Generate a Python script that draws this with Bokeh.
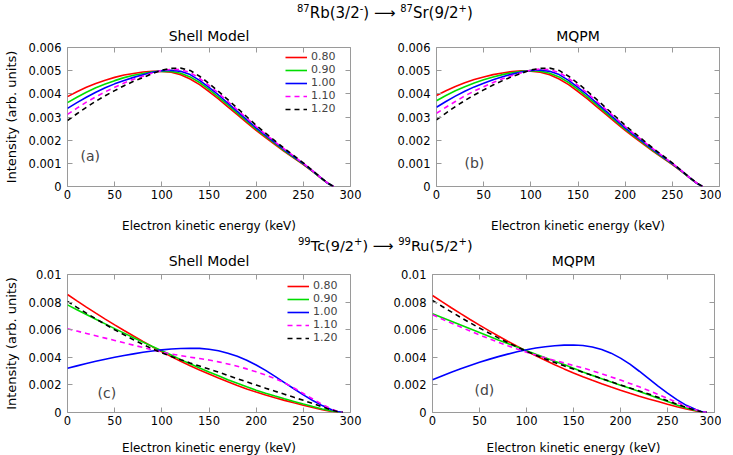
from bokeh.plotting import figure
from bokeh.models import FixedTicker, LinearAxis, Label, Div, Range1d
from bokeh.layouts import column, row
from bokeh.embed import file_html
from bokeh.resources import INLINE

FONT = "DejaVu Sans"
GRAY = "#9a9a9a"

# ---------------- data (intensities in units of 1e-3) ----------------
quenching = ["0.80", "0.90", "1.00", "1.10", "1.20"]

energy_rb = [0, 10, 20, 30, 40, 50, 60, 70, 80, 90, 100, 110, 120, 130, 140,
             150, 160, 170, 180, 190, 200, 210, 220, 230, 240, 250, 260, 270, 276, 282]

# (a) 87Rb Shell Model
rb_sm_080 = [3.88, 4.09, 4.28, 4.45, 4.59, 4.71, 4.81, 4.88, 4.94, 4.97, 4.97, 4.93, 4.82, 4.64, 4.40,
             4.10, 3.78, 3.44, 3.10, 2.76, 2.42, 2.11, 1.81, 1.51, 1.23, 0.95, 0.64, 0.32, 0.14, 0.0]
rb_sm_090 = [3.62, 3.85, 4.07, 4.26, 4.42, 4.57, 4.70, 4.80, 4.88, 4.95, 4.98, 4.97, 4.89, 4.73, 4.49,
             4.19, 3.86, 3.52, 3.17, 2.82, 2.48, 2.16, 1.85, 1.54, 1.25, 0.97, 0.65, 0.32, 0.14, 0.0]
rb_sm_100 = [3.37, 3.62, 3.85, 4.07, 4.26, 4.43, 4.58, 4.71, 4.82, 4.93, 5.00, 5.02, 4.97, 4.83, 4.58,
             4.28, 3.95, 3.60, 3.24, 2.89, 2.53, 2.21, 1.89, 1.58, 1.28, 0.99, 0.66, 0.33, 0.14, 0.0]
rb_sm_110 = [3.11, 3.38, 3.64, 3.87, 4.09, 4.28, 4.47, 4.63, 4.76, 4.90, 5.01, 5.06, 5.04, 4.92, 4.67,
             4.36, 4.03, 3.67, 3.31, 2.95, 2.59, 2.25, 1.93, 1.61, 1.31, 1.00, 0.67, 0.33, 0.15, 0.0]
rb_sm_120 = [2.85, 3.14, 3.42, 3.68, 3.92, 4.14, 4.35, 4.54, 4.70, 4.88, 5.02, 5.10, 5.11, 5.01, 4.76,
             4.45, 4.11, 3.75, 3.38, 3.01, 2.64, 2.30, 1.97, 1.64, 1.33, 1.02, 0.68, 0.34, 0.15, 0.0]

# (b) 87Rb MQPM
rb_mq_080 = [3.93, 4.13, 4.32, 4.48, 4.62, 4.73, 4.83, 4.90, 4.96, 4.99, 4.98, 4.93, 4.82, 4.64, 4.40,
             4.10, 3.78, 3.44, 3.10, 2.76, 2.42, 2.11, 1.81, 1.51, 1.23, 0.95, 0.64, 0.32, 0.14, 0.0]
rb_mq_090 = [3.70, 3.93, 4.13, 4.31, 4.47, 4.61, 4.73, 4.83, 4.91, 4.97, 5.00, 4.98, 4.89, 4.73, 4.49,
             4.19, 3.86, 3.52, 3.17, 2.82, 2.48, 2.16, 1.85, 1.54, 1.25, 0.97, 0.65, 0.32, 0.14, 0.0]
rb_mq_100 = [3.42, 3.67, 3.90, 4.11, 4.30, 4.46, 4.61, 4.74, 4.85, 4.94, 5.01, 5.03, 4.97, 4.83, 4.58,
             4.28, 3.95, 3.60, 3.24, 2.89, 2.53, 2.21, 1.89, 1.58, 1.28, 0.99, 0.66, 0.33, 0.14, 0.0]
rb_mq_110 = [3.16, 3.42, 3.67, 3.91, 4.12, 4.31, 4.49, 4.65, 4.79, 4.91, 5.02, 5.07, 5.04, 4.92, 4.67,
             4.36, 4.03, 3.67, 3.31, 2.95, 2.59, 2.25, 1.93, 1.61, 1.31, 1.00, 0.67, 0.33, 0.15, 0.0]
rb_mq_120 = [2.88, 3.17, 3.45, 3.71, 3.95, 4.17, 4.38, 4.57, 4.74, 4.89, 5.03, 5.10, 5.11, 5.01, 4.76,
             4.45, 4.11, 3.75, 3.38, 3.01, 2.64, 2.30, 1.97, 1.64, 1.33, 1.02, 0.68, 0.34, 0.15, 0.0]

energy_tc = [0, 10, 20, 30, 40, 50, 60, 70, 80, 90, 100, 110, 120, 130, 140, 150,
             160, 170, 180, 190, 200, 210, 220, 230, 240, 250, 260, 270, 280, 286, 292]

# (c) 99Tc Shell Model
tc_sm_080 = [8.55, 8.09, 7.64, 7.20, 6.77, 6.35, 5.94, 5.54, 5.15, 4.77, 4.40, 4.05, 3.71, 3.39, 3.08, 2.79,
             2.50, 2.22, 1.96, 1.71, 1.48, 1.27, 1.07, 0.88, 0.70, 0.53, 0.36, 0.21, 0.08, 0.03, 0.0]
tc_sm_090 = [7.80, 7.45, 7.10, 6.76, 6.42, 6.08, 5.75, 5.42, 5.10, 4.78, 4.47, 4.16, 3.83, 3.53, 3.23, 2.94,
             2.66, 2.38, 2.12, 1.86, 1.62, 1.40, 1.19, 0.99, 0.80, 0.61, 0.43, 0.26, 0.11, 0.04, 0.0]
tc_sm_100 = [3.20, 3.38, 3.55, 3.71, 3.86, 4.00, 4.13, 4.25, 4.36, 4.46, 4.54, 4.60, 4.64, 4.66, 4.65, 4.58,
             4.47, 4.30, 4.07, 3.78, 3.44, 3.05, 2.62, 2.17, 1.72, 1.28, 0.87, 0.50, 0.20, 0.07, 0.0]
tc_sm_110 = [6.07, 5.90, 5.73, 5.56, 5.39, 5.22, 5.05, 4.88, 4.71, 4.54, 4.38, 4.24, 4.12, 4.01, 3.91, 3.80,
             3.67, 3.52, 3.35, 3.16, 2.95, 2.72, 2.46, 2.15, 1.78, 1.38, 0.98, 0.59, 0.25, 0.09, 0.0]
tc_sm_120 = [8.05, 7.62, 7.20, 6.79, 6.39, 6.00, 5.63, 5.27, 4.93, 4.61, 4.32, 4.06, 3.82, 3.59, 3.37, 3.15,
             2.93, 2.68, 2.45, 2.22, 1.99, 1.76, 1.54, 1.32, 1.10, 0.88, 0.65, 0.41, 0.18, 0.07, 0.0]

# (d) 99Tc MQPM
tc_mq_080 = [8.48, 8.03, 7.59, 7.16, 6.74, 6.33, 5.93, 5.54, 5.16, 4.80, 4.45, 4.11, 3.78, 3.46, 3.16, 2.87,
             2.59, 2.33, 2.08, 1.84, 1.61, 1.39, 1.18, 0.98, 0.79, 0.60, 0.42, 0.25, 0.11, 0.04, 0.0]
tc_mq_090 = [7.15, 6.88, 6.61, 6.34, 6.07, 5.80, 5.53, 5.26, 5.00, 4.74, 4.48, 4.22, 3.97, 3.72, 3.47, 3.20,
             2.94, 2.69, 2.45, 2.21, 1.98, 1.76, 1.53, 1.29, 1.04, 0.79, 0.55, 0.33, 0.14, 0.05, 0.0]
tc_mq_100 = [2.38, 2.65, 2.92, 3.17, 3.41, 3.64, 3.85, 4.05, 4.23, 4.40, 4.55, 4.67, 4.77, 4.84, 4.88, 4.89,
             4.85, 4.75, 4.57, 4.30, 3.94, 3.50, 2.99, 2.45, 1.91, 1.40, 0.93, 0.52, 0.21, 0.07, 0.0]
tc_mq_110 = [7.08, 6.78, 6.48, 6.19, 5.90, 5.62, 5.35, 5.09, 4.84, 4.60, 4.37, 4.16, 3.96, 3.77, 3.59, 3.41,
             3.23, 3.02, 2.81, 2.58, 2.35, 2.11, 1.86, 1.59, 1.31, 1.03, 0.74, 0.46, 0.20, 0.07, 0.0]
tc_mq_120 = [8.12, 7.70, 7.29, 6.89, 6.50, 6.12, 5.76, 5.41, 5.07, 4.75, 4.44, 4.15, 3.88, 3.62, 3.38, 3.15,
             2.92, 2.69, 2.46, 2.23, 2.00, 1.78, 1.56, 1.34, 1.10, 0.85, 0.60, 0.37, 0.16, 0.06, 0.0]

x_ticks = [0, 50, 100, 150, 200, 250, 300]
x_tick_labels = ["0", "50", "100", "150", "200", "250", "300"]
y_ticks_rb = [0.0, 0.001, 0.002, 0.003, 0.004, 0.005, 0.006]
y_tick_labels_rb = ["0", "0.001", "0.002", "0.003", "0.004", "0.005", "0.006"]
y_ticks_tc = [0.0, 0.002, 0.004, 0.006, 0.008, 0.01]
y_tick_labels_tc = ["0", "0.002", "0.004", "0.006", "0.008", "0.01"]

COLORS = ["#ff0000", "#00dd00", "#0000ff", "#ff00ff", "#000000"]
DASHES = ["solid", "solid", "solid", "5 4", "5 4"]


def style_axis(ax, ticks, labels, show_labels=True):
    ax.ticker = FixedTicker(ticks=ticks)
    ax.axis_line_color = None
    ax.major_tick_in = 5
    ax.major_tick_out = 0
    ax.major_tick_line_color = GRAY
    ax.minor_tick_line_color = None
    if show_labels:
        ax.major_label_overrides = dict(zip(ticks, labels))
        ax.major_label_text_font = FONT
        ax.major_label_text_font_size = "11.5px"
        ax.major_label_text_color = "black"
        ax.major_label_standoff = 5
    else:
        ax.major_label_overrides = {t: "" for t in ticks}
        ax.major_label_text_font_size = "1px"
        ax.major_label_standoff = 0
    ax.axis_label_text_font = FONT
    ax.axis_label_text_font_style = "normal"
    ax.axis_label_text_color = "black"


def panel(x, series, yticks, ylabels, ymax, title, letter, letter_xy,
          with_ylabel, with_legend, legend_loc, bl, br, bt, bb, fw, fh,
          xlab_standoff, title_standoff):
    p = figure(frame_width=fw, frame_height=fh,
               x_range=Range1d(0, 300), y_range=Range1d(0, ymax),
               output_backend="svg", toolbar_location=None,
               min_border_left=bl, min_border_right=br,
               min_border_top=bt, min_border_bottom=bb)
    p.title.text = title
    p.title.align = "center"
    p.title.text_font = FONT
    p.title.text_font_size = "14px"
    p.title.text_font_style = "normal"
    p.title.text_color = "black"
    p.title.standoff = title_standoff
    p.xgrid.visible = False
    p.ygrid.visible = False
    p.outline_line_color = GRAY
    p.outline_line_width = 1

    for ys, color, dash, lab in zip(series, COLORS, DASHES, quenching):
        kw = dict(legend_label=lab) if with_legend else {}
        p.line(x, [v * 1e-3 for v in ys], line_color=color, line_width=1.6,
               line_dash=dash, **kw)

    xa = p.xaxis[0]
    style_axis(xa, x_ticks, x_tick_labels)
    xa.major_label_standoff = 3
    xa.axis_label = "Electron kinetic energy (keV)"
    xa.axis_label_text_font_size = "12px"
    xa.axis_label_standoff = xlab_standoff

    ya = p.yaxis[0]
    style_axis(ya, yticks, ylabels)
    ya.major_label_standoff = 6
    if with_ylabel:
        ya.axis_label = "Intensity (arb. units)"
        ya.axis_label_text_font_size = "13px"
        ya.axis_label_standoff = 7

    top = LinearAxis()
    style_axis(top, x_ticks, x_tick_labels, show_labels=False)
    p.add_layout(top, "above")
    right = LinearAxis()
    style_axis(right, yticks, ylabels, show_labels=False)
    p.add_layout(right, "right")

    p.add_layout(Label(x=letter_xy[0], y=letter_xy[1], x_units="screen", y_units="screen",
                       text=letter, text_font=FONT, text_font_size="14px",
                       text_baseline="middle", text_align="left"))

    if with_legend:
        lg = p.legend[0]
        lg.location = legend_loc
        lg.background_fill_alpha = 0
        lg.border_line_alpha = 0
        lg.padding = 0
        lg.margin = 0
        lg.spacing = 0
        lg.label_height = 12
        lg.glyph_height = 12
        lg.glyph_width = 22
        lg.label_standoff = 4
        lg.label_text_font = FONT
        lg.label_text_font_size = "11px"
        lg.label_text_line_height = 1.0
    return p


pa = panel(energy_rb, [rb_sm_080, rb_sm_090, rb_sm_100, rb_sm_110, rb_sm_120],
           y_ticks_rb, y_tick_labels_rb, 0.006, "Shell Model", "(a)", (13, 31),
           True, True, (218, 71), 61, 18, 25, 47, 283, 139, 17, 8)
pb = panel(energy_rb, [rb_mq_080, rb_mq_090, rb_mq_100, rb_mq_110, rb_mq_120],
           y_ticks_rb, y_tick_labels_rb, 0.006, "MQPM", "(b)", (28, 24),
           False, False, None, 68, 2, 25, 47, 283, 139, 17, 8)
pc = panel(energy_tc, [tc_sm_080, tc_sm_090, tc_sm_100, tc_sm_110, tc_sm_120],
           y_ticks_tc, y_tick_labels_tc, 0.01, "Shell Model", "(c)", (30, 20),
           True, True, (220, 68), 61, 18, 25, 36, 283, 138, 13, 11)
pd_ = panel(energy_tc, [tc_mq_080, tc_mq_090, tc_mq_100, tc_mq_110, tc_mq_120],
            y_ticks_tc, y_tick_labels_tc, 0.01, "MQPM", "(d)", (42, 23),
            False, False, None, 64, 7, 25, 36, 282, 138, 13, 11)

SUP = '<sup style="font-size:10px;line-height:0;vertical-align:6px">'
SPAN = ('<span style="display:inline-block;position:relative;top:{}px;margin-left:{}px;'
        'font-family:\'DejaVu Sans\';font-size:{}px;color:black;white-space:nowrap">')
head1 = Div(text=SPAN.format(3, 297, 15) + SUP + "87</sup>Rb(3/2" + SUP + "-</sup>) &#10230; "
            + SUP + "87</sup>Sr(9/2" + SUP + "+</sup>)</span>",
            width=715, height=21, margin=0)
head2 = Div(text=SPAN.format(1, 298, 14.5) + SUP + "99</sup>Tc(9/2" + SUP + "+</sup>) &#10230; "
            + SUP + "99</sup>Ru(5/2" + SUP + "+</sup>)</span>",
            width=715, height=10, margin=0,
            styles={"overflow": "visible", "position": "relative", "z-index": "5"})

layout = column(head1, row(pa, pb), head2, row(pc, pd_))

with open("out.html", "w") as f:
    f.write(file_html(layout, INLINE))
